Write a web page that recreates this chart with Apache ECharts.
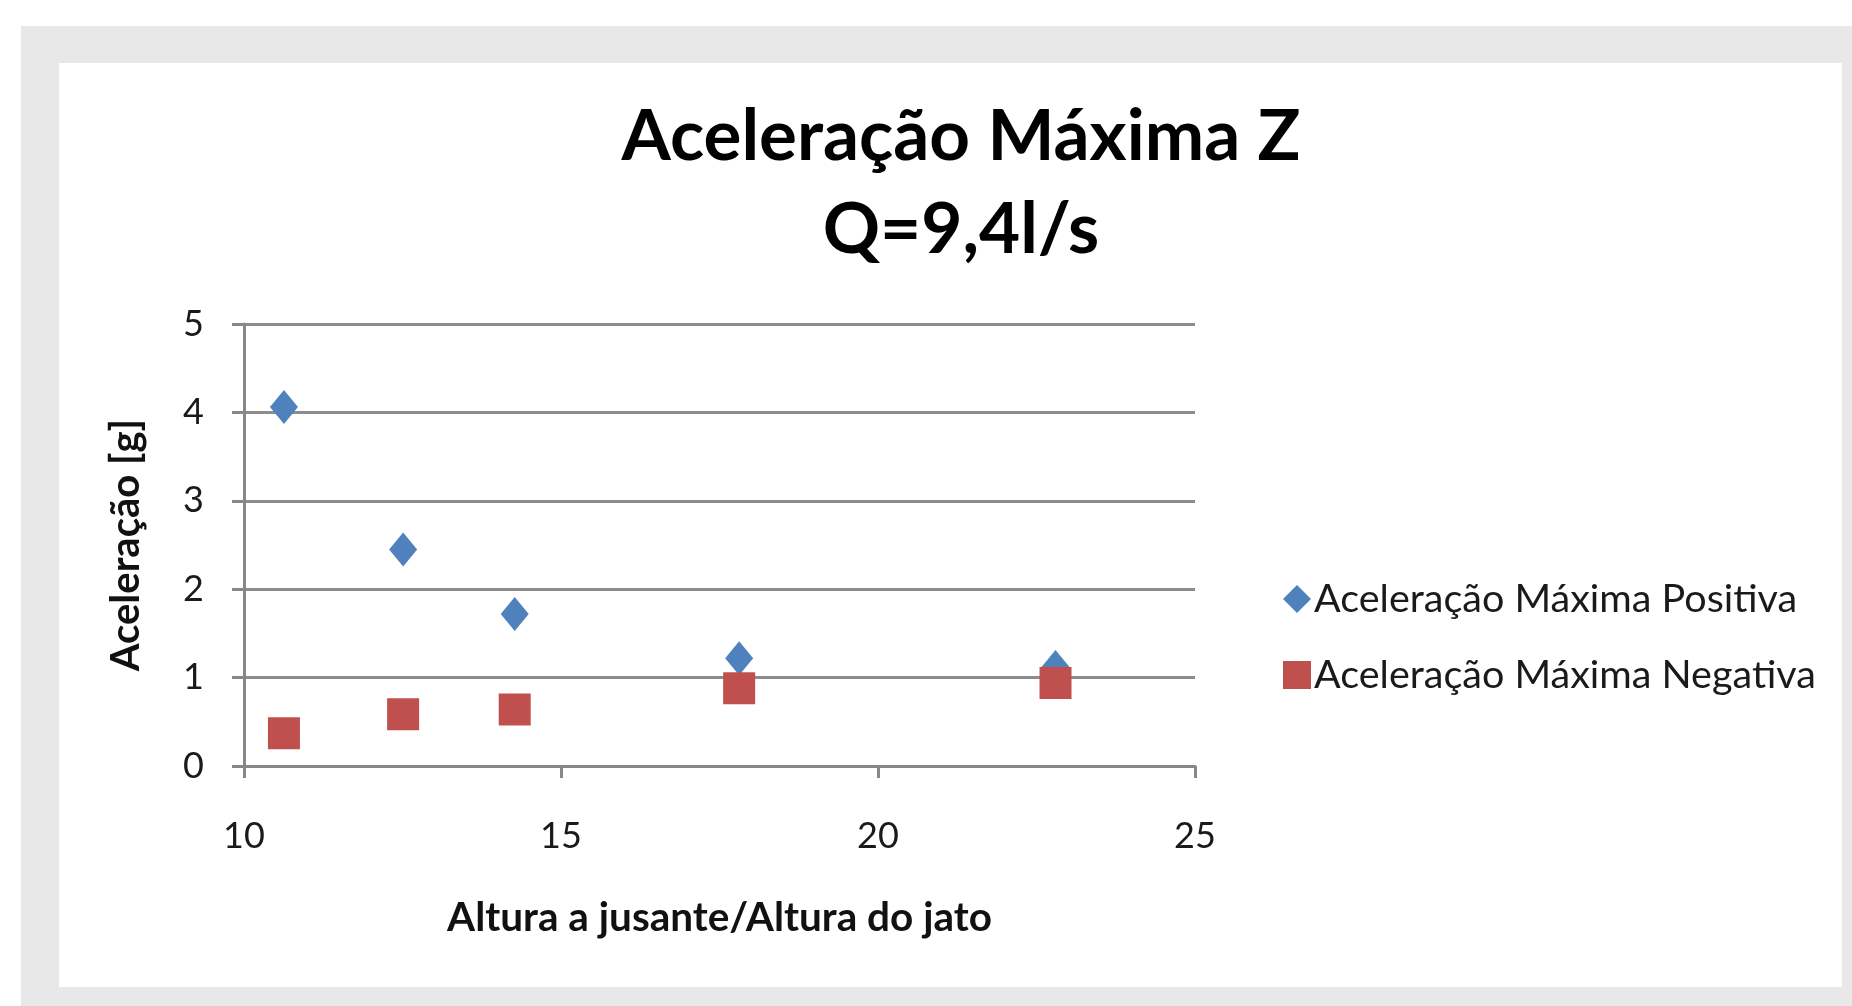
<!DOCTYPE html>
<html>
<head>
<meta charset="utf-8">
<script src="https://cdn.jsdelivr.net/npm/echarts@6/dist/echarts.min.js"></script>
<style>
html,body{margin:0;padding:0;background:#fff;}
#chart{width:1852px;height:1006px;}
</style>
</head>
<body>
<div id="chart"></div>
<script>
const titleLines = ['Aceleração Máxima Z', 'Q=9,4l/s'];
const xAxisName = 'Altura a jusante/Altura do jato';
const yAxisName = 'Aceleração [g]';
const seriesNames = ['Aceleração Máxima Positiva', 'Aceleração Máxima Negativa'];
const xValues = [10.63, 12.51, 14.27, 17.81, 22.8];
const positiveValues = [4.06, 2.45, 1.72, 1.22, 1.12];
const negativeValues = [0.37, 0.585, 0.64, 0.88, 0.94];

const FONT = 'Lato';
const chart = echarts.init(document.getElementById('chart'));
const option = {
  backgroundColor: '#ffffff',
  animation: false,
  graphic: [
    { type: 'rect', z: -10, shape: { x: 21, y: 26, width: 1831, height: 980 }, style: { fill: '#e8e8e8' } },
    { type: 'rect', z: -9, shape: { x: 59, y: 63, width: 1783, height: 924 }, style: { fill: '#ffffff' } }
  ],
  title: {
    text: titleLines.join('\n'),
    left: 956,
    top: 86,
    textAlign: 'center',
    textStyle: { fontFamily: FONT, fontWeight: 'bold', fontSize: 71, lineHeight: 93, color: '#000' }
  },
  legend: {
    orient: 'vertical',
    left: 1278,
    top: 574,
    itemWidth: 28,
    itemHeight: 28,
    itemGap: 36,
    textStyle: { fontFamily: FONT, fontSize: 39.5, color: '#1a1a1a', padding: [0, 0, 0, -2] },
    data: [
      { name: seriesNames[0], icon: 'diamond' },
      { name: seriesNames[1], icon: 'rect' }
    ]
  },
  grid: { left: 244, right: 657, top: 324, bottom: 240, containLabel: false },
  xAxis: {
    type: 'value', min: 10, max: 25, interval: 5,
    name: xAxisName, nameLocation: 'middle', nameGap: 131,
    nameTextStyle: { fontFamily: FONT, fontWeight: 'bold', fontSize: 40.5, color: '#111' },
    axisLine: { show: true, lineStyle: { color: '#878787', width: 3 } },
    axisTick: { show: true, inside: false, length: 12, lineStyle: { color: '#878787', width: 3 } },
    axisLabel: { fontFamily: FONT, fontSize: 36, color: '#1a1a1a', margin: 52 },
    splitLine: { show: false }
  },
  yAxis: {
    type: 'value', min: 0, max: 5, interval: 1,
    name: yAxisName, nameLocation: 'middle', nameGap: 98, nameRotate: 90,
    nameTextStyle: { fontFamily: FONT, fontWeight: 'bold', fontSize: 40, color: '#111' },
    axisLine: { show: true, lineStyle: { color: '#878787', width: 3 } },
    axisTick: { show: true, inside: false, length: 12, lineStyle: { color: '#878787', width: 3 } },
    axisLabel: { fontFamily: FONT, fontSize: 36, color: '#1a1a1a', margin: 40 },
    splitLine: { show: true, lineStyle: { color: '#8c8c8c', width: 3 } }
  },
  series: [
    {
      name: seriesNames[0], type: 'scatter', symbol: 'diamond', symbolSize: [28, 34],
      itemStyle: { color: '#4f81bd', opacity: 1 },
      data: xValues.map((x, i) => [x, positiveValues[i]])
    },
    {
      name: seriesNames[1], type: 'scatter', symbol: 'rect', symbolSize: [32, 32],
      itemStyle: { color: '#c0504d', opacity: 1 },
      data: xValues.map((x, i) => [x, negativeValues[i]])
    }
  ]
};
chart.setOption(option);
</script>
</body>
</html>
